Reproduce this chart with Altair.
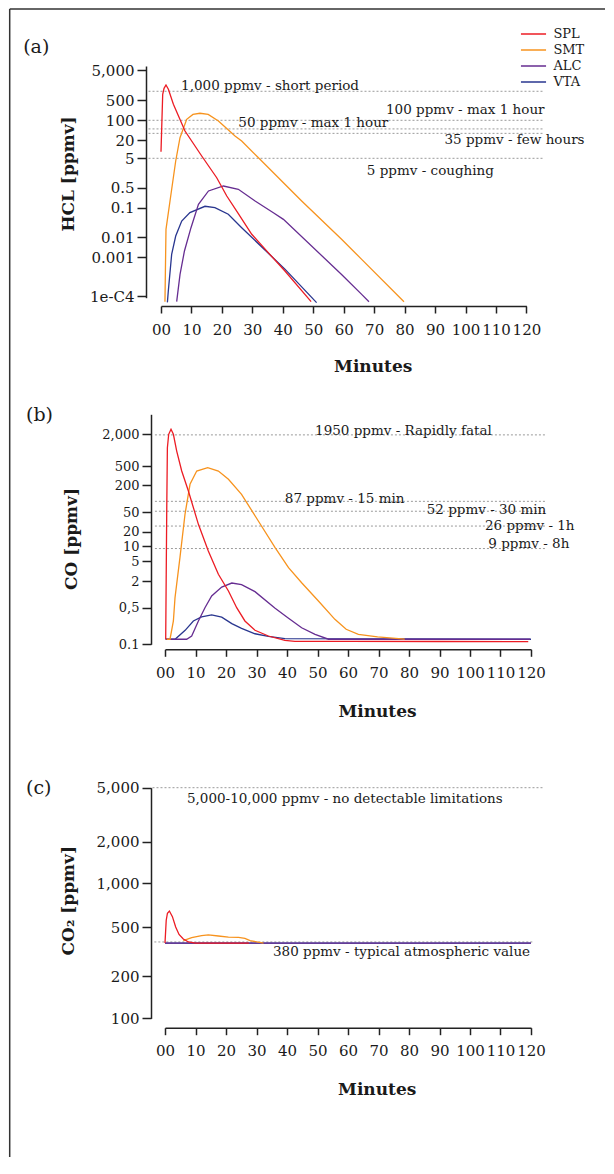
import math
import altair as alt
import pandas as pd

# ---------------- data ----------------
SERIES = ["SPL", "SMT", "ALC", "VTA"]
COLORS = ["#ec1c24", "#f7931e", "#662d91", "#29368f"]
DRAW_ORDER = ["VTA", "ALC", "SMT", "SPL"]

# (a) HCL [ppmv]
hcl_spl_t = [0, 0.56, 1.0, 1.64, 2.43, 4.07, 7.88, 13.37, 18.3, 21.6, 25.5, 29.8, 35.0, 40.7, 49.3]
hcl_spl_v = [8.3, 792, 1250, 1618, 1164, 362, 42.3, 5.97, 1.09, 0.256, 0.06, 0.0124, 0.0018, 0.00044, 0.000073]
hcl_smt_t = [1.3, 1.64, 2.96, 4.83, 6.24, 8.44, 10.5, 12.8, 15.5, 18.85, 21.5, 24.3, 26.5, 32.0, 46.2, 59.3, 65.9, 79.8]
hcl_smt_v = [0.000073, 0.0183, 0.171, 4.05, 24.7, 108, 160, 176, 160, 94.6, 52.5, 28.3, 19, 5.2, 0.171, 0.0077, 0.00087, 0.000073]
hcl_alc_t = [5.15, 6.25, 7.7, 9.85, 12.3, 15.6, 20.5, 25.4, 30.9, 36.9, 40.2, 59.3, 65.9, 68.3]
hcl_alc_v = [0.000073, 0.00036, 0.002, 0.0208, 0.1315, 0.384, 0.571, 0.44, 0.171, 0.0676, 0.040, 0.00036, 0.000112, 0.000073]
hcl_vta_t = [2.1, 2.4, 3.5, 4.83, 6.8, 9.5, 14.45, 17.7, 22.1, 26.5, 40.7, 51.1]
hcl_vta_v = [0.00007, 0.000136, 0.00136, 0.0108, 0.035, 0.068, 0.112, 0.1, 0.0596, 0.0208, 0.00049, 0.000069]
hcl_thr_v = [1000, 100, 50, 35, 5]
hcl_thr_lab = ["1,000 ppmv - short period", "100 ppmv - max 1 hour", "50 ppmv - max 1 hour",
               "35 ppmv - few hours", "5 ppmv - coughing"]
hcl_tick_v = [1e-4, 0.001, 0.01, 0.1, 0.5, 5, 20, 100, 500, 5000]
hcl_tick_lab = ["1e-C4", "0.001", "0.01", "0.1", "0.5", "5", "20", "100", "500", "5,000"]

# (b) CO [ppmv]
co_spl_t = [0.23, 0.56, 0.78, 1.21, 1.97, 2.75, 3.84, 5.48, 7.67, 10.95, 14.2, 17.5, 20.8, 23.5, 26.2, 29.5, 33.9, 39.3, 42.6, 60, 90, 119.1]
co_spl_v = [0.125, 44.9, 1112, 2000, 2490, 2000, 962, 394, 149, 28.2, 8.0, 2.72, 1.19, 0.5, 0.279, 0.185, 0.144, 0.119, 0.114, 0.114, 0.113, 0.112]
co_smt_t = [0.56, 1.64, 2.75, 3.28, 4.92, 6.56, 8.2, 10.4, 14.0, 17.5, 20.8, 25.1, 30.6, 36.1, 40.5, 44.8, 50.3, 55.7, 59.4, 63.4, 69.7, 78.6]
co_smt_v = [0.125, 0.125, 0.279, 0.84, 6.0, 45, 210, 394, 461, 394, 266, 125, 32.9, 9.36, 3.68, 1.83, 0.707, 0.3, 0.194, 0.155, 0.138, 0.125]
co_alc_t = [0.23, 7.1, 8.75, 10.95, 13.1, 15.3, 18.6, 21.9, 25.1, 29.5, 36.1, 40.5, 44.8, 49.2, 53.6, 119.7]
co_alc_v = [0.125, 0.125, 0.144, 0.279, 0.5, 0.917, 1.46, 1.8, 1.66, 1.15, 0.487, 0.314, 0.207, 0.155, 0.125, 0.125]
co_vta_t = [0.23, 3.3, 6.6, 9.3, 12.0, 15.3, 18.6, 21.9, 25.1, 29.5, 33.9, 39.3, 120]
co_vta_v = [0.125, 0.125, 0.185, 0.279, 0.333, 0.363, 0.33, 0.248, 0.202, 0.159, 0.142, 0.128, 0.125]
co_thr_v = [1950, 87, 52, 26, 9]
co_thr_lab = ["1950 ppmv - Rapidly fatal", "87 ppmv - 15 min", "52 ppmv - 30 min", "26 ppmv - 1h", "9 ppmv - 8h"]
co_tick_v = [0.1, 0.5, 2, 5, 10, 20, 50, 200, 500, 2000]
co_tick_lab = ["0.1", "0,5", "2", "5", "10", "20", "50", "200", "500", "2,000"]

# (c) CO2 [ppmv]
co2_spl_t = [0, 0.4, 0.8, 1.44, 2.43, 3.5, 4.6, 6.0, 7.7, 10, 27.5]
co2_spl_v = [372, 560, 625, 647, 592, 503, 438, 402, 380, 372, 372]
co2_smt_t = [6.0, 8.75, 12.0, 14.2, 17.5, 20.8, 24.1, 26.2, 27.9, 32.3]
co2_smt_v = [389, 412, 428, 434, 425, 417, 414, 406, 389, 372]
co2_alc_t = [0, 120]
co2_alc_v = [372, 372]
co2_vta_t = [0, 120]
co2_vta_v = [372, 372]
co2_thr_v = [5000, 380]
co2_thr_lab = ["5,000-10,000 ppmv - no detectable limitations", "380 ppmv - typical atmospheric value"]
co2_tick_v = [100, 200, 500, 1000, 2000, 5000]
co2_tick_lab = ["100", "200", "500", "1,000", "2,000", "5,000"]

X_TICKS = list(range(0, 121, 10))

# ---------------- layout / style (pixels, offsets) ----------------
FONT = "DejaVu Serif"
INK = "#1a1a1a"
PLOT_W = 370

HCL_TICK_PX = [230.3, 191, 171, 141.7, 121.7, 92.3, 74.3, 54.3, 34.3, 4.3]
CO_TICK_PX = [338.3, 301.7, 275, 255, 240.3, 225.7, 206, 179.3, 160, 128.3]
CO2_TICK_PX = [368.4, 326, 277.4, 233.4, 191.7, 137.7]

HCL_LABEL_X = [6.6, 73.9, 25.4, 93.1, 67.6]
HCL_LABEL_DY = [-1.3, -6, -2, 10.3, 16.7]
HCL_RULE_X = [(-4.1, 125.6)] * 5
CO_LABEL_X = [49.2, 39.3, 85.8, 104.9, 106]
CO_LABEL_DY = [0.4, 2, 3, 3.9, -0.2]
CO_RULE_X = [(-3.3, 124.6)] * 5
CO2_LABEL_X = [7.2, 35.4]
CO2_LABEL_DY = [15, 14]
CO2_RULE_X = [(-4.1, 124.3), (-3.5, 121)]


def piecewise(tick_vals, tick_px, top_px, bottom_px):
    logs = [math.log10(v) for v in tick_vals]
    dom, rng = list(logs), list(tick_px)
    if abs(bottom_px - tick_px[0]) > 0.01:
        s = (logs[1] - logs[0]) / (tick_px[1] - tick_px[0])
        dom.insert(0, logs[0] + (bottom_px - tick_px[0]) * s)
        rng.insert(0, bottom_px)
    if abs(top_px - tick_px[-1]) > 0.01:
        s = (logs[-1] - logs[-2]) / (tick_px[-1] - tick_px[-2])
        dom.append(logs[-1] + (top_px - tick_px[-1]) * s)
        rng.append(top_px)
    return dom, rng, logs


def label_expr(vals, labs):
    parts = [f"abs(datum.value - ({v!r})) < 1e-6 ? '{l}' : " for v, l in zip(vals, labs)]
    return "".join(parts) + "''"


LOG = "log(datum.v) / LN10"


def panel(series, thr_v, thr_lab, lab_x, lab_dy, rule_x, tick_v, tick_lab, tick_px,
          top_px, bottom_px, height, xrange, yoffset, ytitle, ytx, yty, xtx, xty,
          legend, extra, ylab_size=15):
    dom, rng, logs = piecewise(tick_v, tick_px, top_px, bottom_px)
    X = alt.X("x:Q",
              scale=alt.Scale(domain=[0, 120], range=xrange, nice=False, zero=False),
              axis=alt.Axis(values=X_TICKS, labelExpr="datum.value == 0 ? '00' : datum.label",
                            title="Minutes", tickSize=7, labelPadding=9, labelFontSize=15,
                            labelOverlap=False, labelFlush=False, grid=False,
                            titleX=xtx, titleY=xty, titleAlign="center",
                            titleBaseline="alphabetic", titleFontSize=17,
                            titleFontWeight="bold"))
    Y = alt.Y("ly:Q",
              scale=alt.Scale(domain=dom, range=rng, nice=False, zero=False),
              axis=alt.Axis(values=logs, labelExpr=label_expr(logs, tick_lab), title=ytitle,
                            offset=yoffset, tickSize=9, labelPadding=3, labelFontSize=ylab_size,
                            labelOverlap=False, labelFlush=False, grid=False,
                            titleX=ytx, titleY=yty, titleAngle=270, titleAlign="center",
                            titleBaseline="middle", titleFontSize=17, titleFontWeight="bold"))
    C = alt.Color("series:N", scale=alt.Scale(domain=SERIES, range=COLORS), legend=legend)

    rows = []
    for name, (ts, vs) in series.items():
        rows += [{"series": name, "x": t, "v": v} for t, v in zip(ts, vs)]
    df = pd.DataFrame(rows)

    layers = []
    rules = pd.DataFrame({"x": [r[0] for r in rule_x], "x2": [r[1] for r in rule_x], "v": thr_v})
    layers.append(alt.Chart(rules).transform_calculate(ly=LOG)
                  .mark_rule(color="#9a9a9a", strokeWidth=1, strokeDash=[2, 2])
                  .encode(x=X, x2="x2:Q", y=Y))
    for s in DRAW_ORDER:
        layers.append(alt.Chart(df).transform_filter(alt.datum.series == s)
                      .transform_calculate(ly=LOG)
                      .mark_line(strokeWidth=1.3)
                      .encode(x=X, y=Y, color=C))
    for i in range(len(thr_v)):
        d = pd.DataFrame({"x": [lab_x[i]], "v": [thr_v[i]], "label": [thr_lab[i]]})
        layers.append(alt.Chart(d).transform_calculate(ly=LOG)
                      .mark_text(align="left", baseline="alphabetic", dy=lab_dy[i],
                                 fontSize=13.5, font=FONT, color=INK)
                      .encode(x=X, y=Y, text="label:N"))
    layers += extra
    return alt.layer(*layers).properties(width=PLOT_W, height=height)


one = pd.DataFrame({"k": [0]})


def tag(text, x, y):
    return (alt.Chart(one).mark_text(text=text, align="left", baseline="middle",
                                      fontSize=19, font=FONT, color=INK)
            .encode(x=alt.value(x), y=alt.value(y)))


frame = [
    alt.Chart(one).mark_rule(color="#333333", strokeWidth=1.5)
    .encode(x=alt.value(-151.3), x2=alt.value(444), y=alt.value(-57)),
    alt.Chart(one).mark_rule(color="#333333", strokeWidth=1.5)
    .encode(x=alt.value(-151.3), y=alt.value(-57), y2=alt.value(1091)),
]

leg = alt.Legend(orient="none", legendX=366, legendY=-38.5, title=None,
                 symbolType="M-3,0H3", symbolSize=70, symbolStrokeWidth=1.5,
                 labelFontSize=13, labelFont=FONT, labelColor=INK, labelOffset=13.4,
                 rowPadding=2, padding=0)

pa = panel({"SPL": (hcl_spl_t, hcl_spl_v), "SMT": (hcl_smt_t, hcl_smt_v),
            "ALC": (hcl_alc_t, hcl_alc_v), "VTA": (hcl_vta_t, hcl_vta_v)},
           hcl_thr_v, hcl_thr_lab, HCL_LABEL_X, HCL_LABEL_DY, HCL_RULE_X,
           hcl_tick_v, hcl_tick_lab, HCL_TICK_PX, 0, 231.7, 240, [0, 365.4], 15,
           "HCL [ppmv]", -77.8, 107.5, 211.7, 65, leg,
           frame + [tag("(a)", -137.8, -19)])

pb = panel({"SPL": (co_spl_t, co_spl_v), "SMT": (co_smt_t, co_smt_v),
            "ALC": (co_alc_t, co_alc_v), "VTA": (co_vta_t, co_vta_v)},
           co_thr_v, co_thr_lab, CO_LABEL_X, CO_LABEL_DY, CO_RULE_X,
           co_tick_v, co_tick_lab, CO_TICK_PX, 108.3, 338.3, 343.3, [4, 370], 10,
           "CO [ppmv]", -79.8, 232.5, 216, 67, None,
           [tag("(b)", -135, 109)], ylab_size=13)

pc = panel({"SPL": (co2_spl_t, co2_spl_v), "SMT": (co2_smt_t, co2_smt_v),
            "ALC": (co2_alc_t, co2_alc_v), "VTA": (co2_vta_t, co2_vta_v)},
           co2_thr_v, co2_thr_lab, CO2_LABEL_X, CO2_LABEL_DY, CO2_RULE_X,
           co2_tick_v, co2_tick_lab, CO2_TICK_PX, 137.7, 368.4, 377.7, [4, 370], 10,
           "CO\u2082 [ppmv]", -82.8, 250.2, 215.7, 67, None,
           [tag("(c)", -135, 137.7)])

chart = (alt.vconcat(pa, pb, pc, spacing=0, bounds="flush")
         .resolve_scale(color="independent")
         .properties(padding=0, background="white")
         .configure_view(stroke=None)
         .configure_axis(labelFont=FONT, titleFont=FONT, labelColor=INK, titleColor=INK,
                         domainColor="#222222", tickColor="#222222", domainWidth=1.5,
                         tickWidth=1.5)
         .configure_text(font=FONT))

chart.save("out.html", embed_options={"renderer": "svg", "actions": False})
